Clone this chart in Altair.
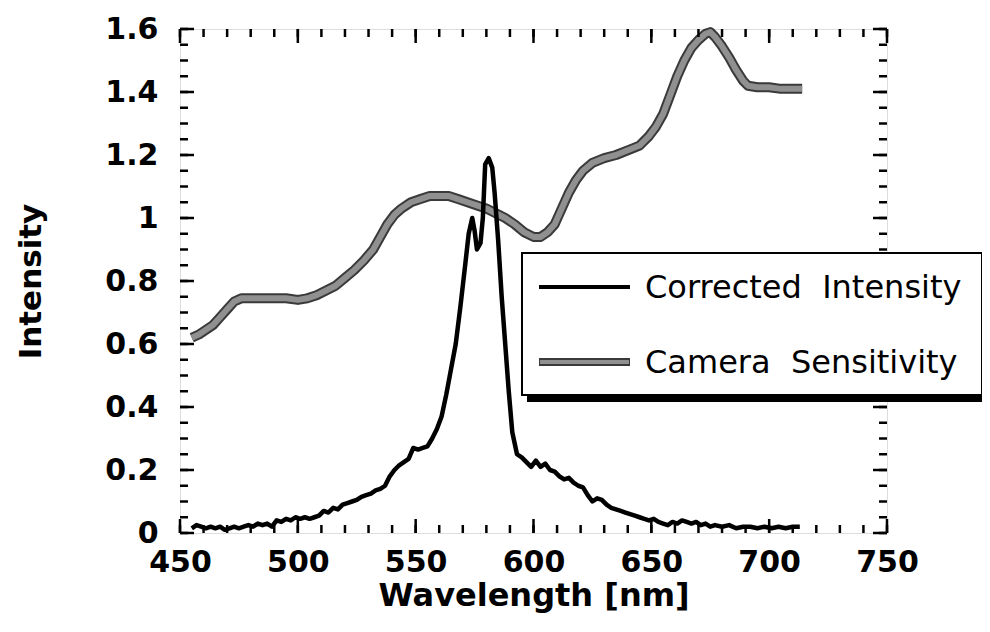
import altair as alt
import pandas as pd

# ---- data ----
corr_wl = [455, 457, 459, 461, 463, 465, 467, 469, 471, 473, 475, 477, 479, 481, 483, 485, 487, 489,
           491, 493, 495, 497, 499, 501, 503, 505, 507, 509, 511, 513, 515, 517, 519, 521, 523, 525,
           527, 529, 531, 533, 535, 537, 539, 541, 543, 545, 547, 549, 551, 553, 555, 557, 559, 561,
           563, 565, 567, 569, 571, 572.5, 574, 575, 576, 577.5, 578.5, 579.5, 581, 582.5, 583.5, 585,
           586.5, 588, 589.5, 591, 593, 595, 597, 599, 601, 603, 605, 607, 609, 611, 613, 615, 617,
           619, 621, 623, 625, 627, 629, 631, 633, 635, 637, 639, 641, 643, 645, 647, 649, 651, 653,
           655, 657, 659, 661, 663, 665, 667, 669, 671, 673, 675, 677, 680, 683, 686, 689, 692, 695,
           698, 701, 704, 707, 710, 713]
corr_val = [0.015, 0.025, 0.02, 0.015, 0.02, 0.015, 0.02, 0.01, 0.015, 0.02, 0.015, 0.02, 0.025, 0.02,
            0.03, 0.025, 0.03, 0.02, 0.04, 0.035, 0.045, 0.04, 0.05, 0.045, 0.05, 0.045, 0.05, 0.055,
            0.07, 0.065, 0.08, 0.075, 0.09, 0.095, 0.1, 0.105, 0.115, 0.12, 0.125, 0.135, 0.14, 0.15,
            0.18, 0.2, 0.215, 0.225, 0.235, 0.27, 0.265, 0.27, 0.275, 0.3, 0.33, 0.37, 0.44, 0.52,
            0.6, 0.72, 0.85, 0.95, 1.0, 0.96, 0.9, 0.92, 1.0, 1.17, 1.19, 1.16, 1.08, 0.93, 0.75, 0.6,
            0.45, 0.32, 0.25, 0.24, 0.225, 0.21, 0.23, 0.21, 0.22, 0.2, 0.195, 0.18, 0.17, 0.175, 0.16,
            0.15, 0.145, 0.12, 0.1, 0.11, 0.105, 0.09, 0.08, 0.075, 0.07, 0.065, 0.06, 0.055, 0.05,
            0.045, 0.04, 0.045, 0.035, 0.03, 0.025, 0.035, 0.03, 0.04, 0.035, 0.03, 0.035, 0.025, 0.03,
            0.02, 0.025, 0.02, 0.025, 0.015, 0.02, 0.02, 0.015, 0.02, 0.015, 0.02, 0.015, 0.02, 0.02]

cam_wl = [455, 458, 461, 464, 467, 470, 473, 476, 480, 485, 490, 495, 500, 504, 508, 512, 516, 520,
          524, 528, 532, 535, 538, 541, 544, 548, 552, 556, 560, 564, 568, 572, 576, 580, 584, 588,
          592, 596, 600, 603, 606, 609, 612, 615, 618, 621, 625, 630, 635, 640, 645, 649, 652, 655,
          658, 661, 664, 667, 670, 673, 675, 677, 680, 683, 686, 689, 691, 695, 700, 705, 710, 714]
cam_val = [0.62, 0.63, 0.645, 0.66, 0.685, 0.71, 0.735, 0.745, 0.745, 0.745, 0.745, 0.745, 0.74,
           0.745, 0.755, 0.77, 0.785, 0.81, 0.835, 0.865, 0.9, 0.94, 0.98, 1.01, 1.03, 1.05, 1.06,
           1.07, 1.07, 1.07, 1.06, 1.05, 1.04, 1.03, 1.015, 1.0, 0.98, 0.955, 0.94, 0.94, 0.955,
           0.98, 1.03, 1.08, 1.12, 1.15, 1.175, 1.19, 1.2, 1.215, 1.23, 1.26, 1.29, 1.33, 1.39, 1.45,
           1.5, 1.54, 1.565, 1.585, 1.59, 1.575, 1.545, 1.51, 1.47, 1.435, 1.42, 1.415, 1.415, 1.41,
           1.41, 1.41]

series_names = ["Corrected\u00a0 Intensity", "Camera\u00a0 Sensitivity"]

x_major = [450, 500, 550, 600, 650, 700, 750]
x_minor = list(range(450, 751, 10))
y_major = [0, 0.2, 0.4, 0.6, 0.8, 1.0, 1.2, 1.4, 1.6]
y_minor = [round(i * 0.05, 2) for i in range(33)]

# ---- layout ----
W, H = 707, 504
FONT = "DejaVu Sans"
xs = alt.Scale(domain=[450, 750], nice=False, zero=False)
ys = alt.Scale(domain=[0, 1.6], nice=False, zero=False)

corr = pd.DataFrame({"wl": corr_wl, "val": corr_val})
cam = pd.DataFrame({"wl": cam_wl, "val": cam_val})

xaxis = alt.Axis(values=x_major, format="d", ticks=False, domain=False, grid=False,
                 labelFont=FONT, labelFontWeight="bold", labelFontSize=30, labelColor="black",
                 labelPadding=14, labelFlush=False, labelOverlap=False,
                 title="Wavelength [nm]", titleFont=FONT, titleFontWeight="bold", titleFontSize=32,
                 titleColor="black", titlePadding=3)
yaxis = alt.Axis(values=y_major, format="~g", ticks=False, domain=False, grid=False,
                 labelFont=FONT, labelFontWeight="bold", labelFontSize=30, labelColor="black",
                 labelPadding=22, labelFlush=False, labelOverlap=False,
                 title="Intensity", titleFont=FONT, titleFontWeight="bold", titleFontSize=31,
                 titleColor="black", titlePadding=57)

def X(field):
    return alt.X(field, scale=xs, axis=xaxis)

def Y(field):
    return alt.Y(field, scale=ys, axis=yaxis)

cam_dark = alt.Chart(cam).mark_line(color="#3a3a3a", strokeWidth=10, strokeJoin="round").encode(
    x=X("wl:Q"), y=Y("val:Q"))
cam_light = alt.Chart(cam).mark_line(color="#909090", strokeWidth=6, strokeJoin="round").encode(
    x=X("wl:Q"), y=Y("val:Q"))
corr_line = alt.Chart(corr).mark_line(color="black", strokeWidth=4.5, strokeJoin="round").encode(
    x=X("wl:Q"), y=Y("val:Q"))

def xticks(vals, length):
    d = pd.DataFrame({"wl": vals})
    b = alt.Chart(d).mark_rule(color="black", strokeWidth=2.5)
    bottom = b.encode(x=X("wl:Q"), y=alt.value(H), y2=alt.value(H - length))
    top = b.encode(x=X("wl:Q"), y=alt.value(0), y2=alt.value(length))
    return [bottom, top]

def yticks(vals, length):
    d = pd.DataFrame({"val": vals})
    b = alt.Chart(d).mark_rule(color="black", strokeWidth=2.5)
    left = b.encode(y=Y("val:Q"), x=alt.value(0), x2=alt.value(length))
    right = b.encode(y=Y("val:Q"), x=alt.value(W), x2=alt.value(W - length))
    return [left, right]

ticks = xticks(x_minor, 8) + xticks(x_major, 14) + yticks(y_minor, 8) + yticks(y_major, 14)

# ---- legend box (drawn by hand, with a drop shadow) ----
one = pd.DataFrame({"k": [0]})
LX0, LX1, LY0, LY1 = 342, 802, 224, 366
shadow = alt.Chart(one).mark_rect(color="black").encode(
    x=alt.value(LX0 + 5), x2=alt.value(LX1 + 5), y=alt.value(LY0 + 7), y2=alt.value(LY1 + 7))
box = alt.Chart(one).mark_rect(fill="white", stroke="black", strokeWidth=2).encode(
    x=alt.value(LX0), x2=alt.value(LX1), y=alt.value(LY0), y2=alt.value(LY1))

legend_layers = [shadow, box]
styles = [("black", 4, None), ("#3a3a3a", 8, "#909090")]
for i, name in enumerate(series_names):
    yy = 258 + i * 75
    col, sw, inner = styles[i]
    legend_layers.append(alt.Chart(one).mark_rule(color=col, strokeWidth=sw).encode(
        x=alt.value(359), x2=alt.value(450), y=alt.value(yy)))
    if inner:
        legend_layers.append(alt.Chart(one).mark_rule(color=inner, strokeWidth=4).encode(
            x=alt.value(360), x2=alt.value(449), y=alt.value(yy)))
    legend_layers.append(alt.Chart(pd.DataFrame({"name": [name]})).mark_text(
        font=FONT, fontSize=32, color="black", align="left", baseline="middle").encode(
        x=alt.value(465), y=alt.value(yy + 1), text="name:N"))

chart = alt.layer(cam_dark, cam_light, corr_line, *ticks, *legend_layers).properties(
    width=W, height=H,
    padding={"left": 172, "top": 21, "right": 95, "bottom": 91},
    autosize=alt.AutoSizeParams(type="none"),
).configure_view(stroke="black", strokeWidth=3).configure(background="white")

chart.save("out.html", embed_options={"renderer": "svg", "actions": False})
